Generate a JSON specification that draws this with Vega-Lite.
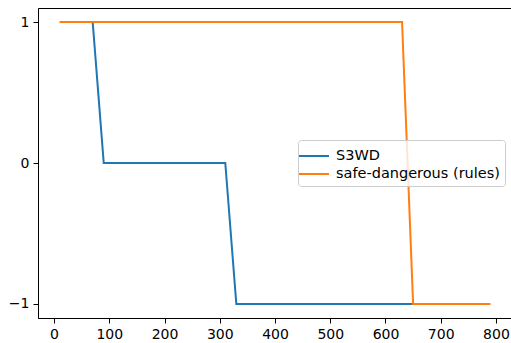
{
  "$schema": "https://vega.github.io/schema/vega-lite/v6.json",
  "width": 474,
  "height": 310,
  "autosize": {"type": "none"},
  "padding": {"left": 38, "top": 8, "right": 0, "bottom": 25},
  "background": "white",
  "config": {
    "font": "DejaVu Sans",
    "view": {"stroke": "black", "strokeWidth": 1},
    "axis": {
      "domainColor": "black", "tickColor": "black", "labelColor": "black",
      "labelFont": "DejaVu Sans", "labelFontSize": 14, "tickSize": 5, "grid": false,
      "labelPadding": 4, "domainWidth": 1, "tickWidth": 1
    },
    "legend": {
      "orient": "none", "legendX": 260, "legendY": 132,
      "fillColor": "rgba(255,255,255,0.8)", "strokeColor": "#cccccc", "cornerRadius": 3,
      "padding": 5, "symbolType": "M-1.5,0H1.5", "symbolSize": 400, "symbolStrokeWidth": 2,
      "labelFont": "DejaVu Sans", "labelFontSize": 14.5, "labelColor": "black", "labelLimit": 300,
      "labelOffset": 11, "rowPadding": 0, "titlePadding": 0
    }
  },
  "data": {
    "values": [
      {"x": 70, "y": 1, "series": "S3WD"},
      {"x": 90, "y": 0, "series": "S3WD"},
      {"x": 310, "y": 0, "series": "S3WD"},
      {"x": 330, "y": -1, "series": "S3WD"},
      {"x": 650, "y": -1, "series": "S3WD"},
      {"x": 10, "y": 1, "series": "safe-dangerous (rules)"},
      {"x": 630, "y": 1, "series": "safe-dangerous (rules)"},
      {"x": 650, "y": -1, "series": "safe-dangerous (rules)"},
      {"x": 790, "y": -1, "series": "safe-dangerous (rules)"}
    ]
  },
  "mark": {"type": "line", "strokeWidth": 2},
  "encoding": {
    "x": {
      "field": "x", "type": "quantitative",
      "scale": {"domain": [-29, 829], "nice": false, "zero": false},
      "axis": {"title": null, "values": [0, 100, 200, 300, 400, 500, 600, 700, 800]}
    },
    "y": {
      "field": "y", "type": "quantitative",
      "scale": {"domain": [-1.1, 1.1], "nice": false, "zero": false},
      "axis": {"title": null, "values": [-1, 0, 1], "labelExpr": "replace(datum.label, '-', '−')"}
    },
    "color": {
      "field": "series", "type": "nominal",
      "scale": {"domain": ["S3WD", "safe-dangerous (rules)"], "range": ["#1f77b4", "#ff7f0e"]},
      "legend": {"title": null}
    },
    "order": {"field": "x", "type": "quantitative"}
  }
}
